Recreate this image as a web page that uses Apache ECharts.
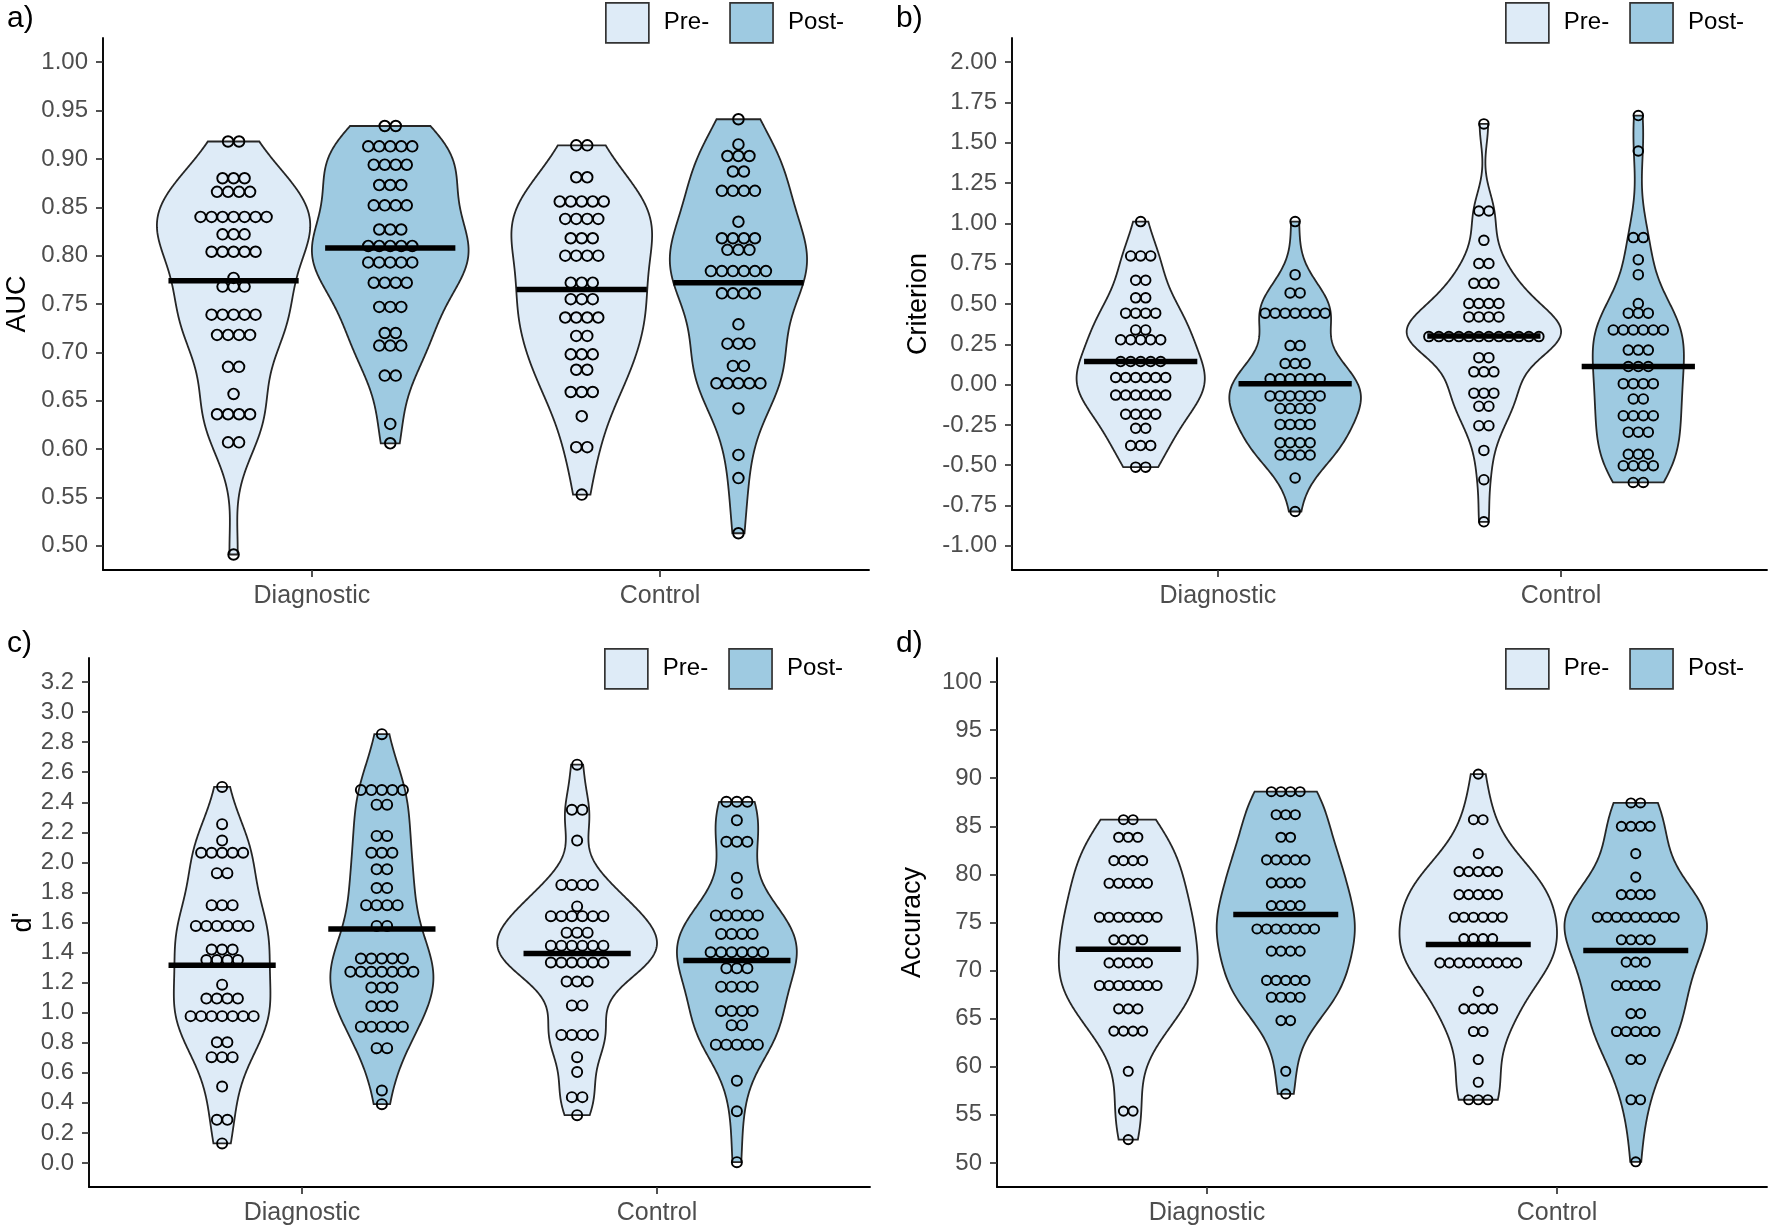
<!DOCTYPE html>
<html><head><meta charset="utf-8">
<script src="https://cdn.jsdelivr.net/npm/echarts@6/dist/echarts.min.js"></script>
<style>html,body{margin:0;padding:0;background:#fff}#c{width:1770px;height:1228px}</style>
</head><body><div id="c"></div>
<script>
// ---------------- DATA (dot rows: [value, count]) ----------------
const groups = ['Diagnostic', 'Control'];
const phases = ['Pre-', 'Post-'];

const aucTicks = [0.50, 0.55, 0.60, 0.65, 0.70, 0.75, 0.80, 0.85, 0.90, 0.95, 1.00];
const critTicks = [-1.00, -0.75, -0.50, -0.25, 0.00, 0.25, 0.50, 0.75, 1.00, 1.25, 1.50, 1.75, 2.00];
const dprimeTicks = [0.0, 0.2, 0.4, 0.6, 0.8, 1.0, 1.2, 1.4, 1.6, 1.8, 2.0, 2.2, 2.4, 2.6, 2.8, 3.0, 3.2];
const accTicks = [50, 55, 60, 65, 70, 75, 80, 85, 90, 95, 100];

// a) AUC
const aucDiagPre = [[0.918,2],[0.880,3],[0.866,4],[0.840,7],[0.822,3],[0.804,5],[0.777,1],[0.768,3],[0.739,5],[0.718,4],[0.685,2],[0.657,1],[0.636,4],[0.607,2],[0.491,1]];
const aucDiagPost = [[0.934,2],[0.913,5],[0.894,4],[0.873,3],[0.852,4],[0.827,3],[0.810,5],[0.793,5],[0.772,4],[0.747,3],[0.720,2],[0.707,3],[0.676,2],[0.626,1],[0.606,1]];
const aucCtrlPre = [[0.914,2],[0.881,2],[0.856,5],[0.838,4],[0.818,3],[0.800,4],[0.772,3],[0.755,3],[0.736,4],[0.717,2],[0.698,3],[0.682,2],[0.659,3],[0.634,1],[0.602,2],[0.553,1]];
const aucCtrlPost = [[0.941,1],[0.915,1],[0.903,3],[0.887,2],[0.867,4],[0.835,1],[0.818,4],[0.806,3],[0.784,6],[0.761,4],[0.729,1],[0.709,3],[0.686,2],[0.668,5],[0.642,1],[0.594,1],[0.570,1],[0.513,1]];
const aucMeans = [0.774, 0.808, 0.765, 0.772];

// b) Criterion
const critDiagPre = [[1.011,1],[0.798,3],[0.647,2],[0.538,2],[0.443,4],[0.339,2],[0.278,5],[0.143,5],[0.044,6],[-0.065,6],[-0.184,4],[-0.271,2],[-0.378,3],[-0.512,2]];
const critDiagPost = [[1.011,1],[0.682,1],[0.569,2],[0.443,7],[0.242,2],[0.131,3],[0.036,6],[-0.070,6],[-0.148,4],[-0.247,4],[-0.361,4],[-0.437,4],[-0.579,1],[-0.787,1]];
const critCtrlPre = [[1.617,1],[1.077,2],[0.895,1],[0.751,2],[0.628,3],[0.503,4],[0.420,4],[0.298,12],[0.167,2],[0.079,3],[-0.053,3],[-0.134,2],[-0.255,2],[-0.408,1],[-0.590,1],[-0.851,1]];
const critCtrlPost = [[1.669,1],[1.449,1],[0.912,2],[0.775,1],[0.682,1],[0.503,1],[0.443,3],[0.339,6],[0.214,3],[0.112,3],[0.006,4],[-0.089,2],[-0.193,4],[-0.295,3],[-0.432,3],[-0.503,4],[-0.607,2]];
const critMeans = [0.143, 0.005, 0.301, 0.112];

// c) d'
const dpDiagPre = [[2.502,1],[2.254,1],[2.145,1],[2.064,5],[1.928,2],[1.715,3],[1.577,6],[1.420,3],[1.350,4],[1.186,1],[1.094,4],[0.977,7],[0.803,2],[0.704,3],[0.508,1],[0.287,2],[0.130,1]];
const dpDiagPost = [[2.853,1],[2.481,5],[2.384,2],[2.176,2],[2.064,3],[1.954,2],[1.829,2],[1.715,4],[1.577,2],[1.360,5],[1.272,7],[1.167,3],[1.042,3],[0.907,5],[0.764,2],[0.482,1],[0.391,1]];
const dpCtrlPre = [[2.650,1],[2.350,2],[2.145,1],[1.850,4],[1.707,1],[1.642,6],[1.532,3],[1.446,6],[1.334,6],[1.207,3],[1.048,2],[0.852,4],[0.704,1],[0.605,1],[0.438,2],[0.318,1]];
const dpCtrlPost = [[2.403,3],[2.280,1],[2.137,3],[1.897,1],[1.793,1],[1.647,5],[1.524,4],[1.402,6],[1.295,3],[1.173,4],[1.011,4],[0.917,2],[0.787,5],[0.547,1],[0.344,1],[0.005,1]];
const dpMeans = [1.316, 1.556, 1.394, 1.347];

// d) Accuracy
const accDiagPre = [[85.69,2],[83.86,3],[81.43,4],[79.08,5],[75.55,7],[73.20,4],[70.80,5],[68.45,7],[66.02,3],[63.71,4],[59.53,1],[55.39,2],[52.43,1]];
const accDiagPost = [[88.60,4],[86.21,3],[83.86,2],[81.51,5],[79.12,4],[76.76,4],[74.33,7],[72.02,4],[68.98,5],[67.23,4],[64.80,2],[59.53,1],[57.18,1]];
const accCtrlPre = [[90.43,1],[85.69,2],[82.16,1],[80.29,5],[77.90,5],[75.55,6],[73.32,4],[70.80,9],[67.84,1],[66.02,4],[63.67,2],[60.75,1],[58.39,1],[56.57,3]];
const accCtrlPost = [[87.43,2],[85.00,4],[82.16,1],[79.72,1],[77.90,4],[75.55,9],[73.20,4],[70.88,3],[68.45,5],[65.53,2],[63.67,5],[60.75,2],[56.57,2],[50.12,1]];
const accMeans = [72.22, 75.83, 72.71, 72.10];

// ---------------- helpers ----------------
const FONT = "'Liberation Sans', Arial, Helvetica, sans-serif";
function expand(rows) { const out = []; rows.forEach(([v, k]) => { for (let i = 0; i < k; i++) out.push(v); }); return out; }
function q7(s, p) { const h = (s.length - 1) * p, lo = Math.floor(h), hi = Math.ceil(h); return s[lo] + (h - lo) * (s[hi] - s[lo]); }
function bwNrd0(x) {
  const n = x.length, m = x.reduce((a, b) => a + b, 0) / n;
  const sd = Math.sqrt(x.reduce((a, b) => a + (b - m) * (b - m), 0) / (n - 1));
  const s = [...x].sort((a, b) => a - b);
  const iqr = q7(s, 0.75) - q7(s, 0.25);
  let lo = Math.min(sd, iqr / 1.34);
  if (!(lo > 0)) lo = sd || 1;
  return 0.9 * lo * Math.pow(n, -0.2);
}
function kde(x, nPts) {
  const h = bwNrd0(x), s = [...x].sort((a, b) => a - b);
  const lo = s[0], hi = s[s.length - 1], ys = [], ds = [];
  for (let i = 0; i < nPts; i++) {
    const y = lo + (hi - lo) * i / (nPts - 1);
    let d = 0;
    for (const v of x) { const u = (y - v) / h; d += Math.exp(-0.5 * u * u); }
    ys.push(y); ds.push(d / (x.length * h * Math.sqrt(2 * Math.PI)));
  }
  return { ys, ds };
}

const centers = [1 - 0.225, 1 + 0.225, 2 - 0.225, 2 + 0.225];
const fills = ['#deebf7', '#9ecae1', '#deebf7', '#9ecae1'];

const panelDefs = [
  { label: 'a)', yName: 'AUC', yMin: 0.475, yMax: 1.025, ticks: aucTicks, dec: 2,
    sets: [aucDiagPre, aucDiagPost, aucCtrlPre, aucCtrlPost], means: aucMeans,
    grid: { left: 103, top: 38, width: 766, height: 532 }, dotD: 11, meanHalf: 0.187, nameGap: 72,
    legend: { left: 605, top: 2 }, title: { left: 7, top: 4 } },
  { label: 'b)', yName: 'Criterion', yMin: -1.15, yMax: 2.15, ticks: critTicks, dec: 2,
    sets: [critDiagPre, critDiagPost, critCtrlPre, critCtrlPost], means: critMeans,
    grid: { left: 1012, top: 38, width: 755, height: 532 }, dotD: 10, meanHalf: 0.165, nameGap: 80,
    legend: { left: 1505, top: 2 }, title: { left: 896, top: 4 } },
  { label: 'c)', yName: "d'", yMin: -0.16, yMax: 3.36, ticks: dprimeTicks, dec: 1,
    sets: [dpDiagPre, dpDiagPost, dpCtrlPre, dpCtrlPost], means: dpMeans,
    grid: { left: 89, top: 658, width: 781, height: 529 }, dotD: 10.5, meanHalf: 0.151, nameGap: 52,
    legend: { left: 604, top: 648 }, title: { left: 7, top: 629 } },
  { label: 'd)', yName: 'Accuracy', yMin: 47.5, yMax: 102.5, ticks: accTicks, dec: 0,
    sets: [accDiagPre, accDiagPost, accCtrlPre, accCtrlPost], means: accMeans,
    grid: { left: 997, top: 658, width: 770, height: 529 }, dotD: 9.6, meanHalf: 0.15, nameGap: 71,
    legend: { left: 1505, top: 648 }, title: { left: 896, top: 629 } }
];

const grids = [], xAxes = [], yAxes = [], series = [], legends = [], titles = [];

panelDefs.forEach((p, pi) => {
  grids.push(Object.assign({ containLabel: false }, p.grid));
  xAxes.push({
    type: 'value', gridIndex: pi, min: 0.4, max: 2.6,
    axisLine: { show: true, onZero: false, lineStyle: { color: '#000', width: 1.9 } },
    axisTick: { show: true, customValues: [1, 2], length: 7, lineStyle: { color: '#333', width: 1.7 } },
    axisLabel: { customValues: [1, 2], formatter: v => groups[Math.round(v) - 1], color: '#4d4d4d', fontSize: 25, margin: 14, fontFamily: FONT },
    splitLine: { show: false }
  });
  yAxes.push({
    type: 'value', gridIndex: pi, min: p.yMin, max: p.yMax,
    axisLine: { show: true, onZero: false, lineStyle: { color: '#000', width: 1.9 } },
    axisTick: { show: true, customValues: p.ticks, length: 7, lineStyle: { color: '#333', width: 1.7 } },
    axisLabel: { customValues: p.ticks, formatter: v => Number(v).toFixed(p.dec), color: '#4d4d4d', fontSize: 24, margin: 15, fontFamily: FONT },
    splitLine: { show: false },
    name: p.yName, nameLocation: 'middle', nameGap: p.nameGap,
    nameTextStyle: { fontSize: 27, color: '#000', fontFamily: FONT }
  });
  legends.push({
    left: p.legend.left, top: p.legend.top, orient: 'horizontal', icon: 'rect', padding: 0,
    itemWidth: 43, itemHeight: 40, itemGap: 20, selectedMode: false,
    textStyle: { fontSize: 24, color: '#000', fontFamily: FONT, padding: [0, 0, 0, 10] },
    data: [
      { name: 'Pre-', itemStyle: { color: '#deebf7', borderColor: '#333', borderWidth: 1.7 } },
      { name: 'Post-', itemStyle: { color: '#9ecae1', borderColor: '#333', borderWidth: 1.7 } }
    ]
  });
  titles.push({ text: p.label, left: p.title.left, top: p.title.top, padding: 0,
    textStyle: { fontSize: 30, fontWeight: 'normal', color: '#000', fontFamily: FONT } });

  // violins (density estimated from the dot values, area-scaled within the panel)
  const raws = p.sets.map(expand);
  const dens = raws.map(r => kde(r, 300));
  const maxD = Math.max(...dens.map(d => Math.max(...d.ds)));
  const shapes = dens.map((d, vi) => ({ xc: centers[vi], ys: d.ys, hw: d.ds.map(v => 0.225 * v / maxD) }));
  [0, 1].forEach(ph => {
    series.push({
      type: 'custom', name: phases[ph], xAxisIndex: pi, yAxisIndex: pi, z: 2, silent: true,
      itemStyle: { color: fills[ph] },
      data: [ph, ph + 2].map(vi => [centers[vi], shapes[vi].ys[0], vi]),
      renderItem: (params, api) => {
        const s = shapes[api.value(2)];
        const right = [], left = [];
        for (let i = 0; i < s.ys.length; i++) {
          right.push(api.coord([s.xc + s.hw[i], s.ys[i]]));
          left.push(api.coord([s.xc - s.hw[i], s.ys[i]]));
        }
        return { type: 'polygon', shape: { points: right.concat(left.reverse()) },
          style: { fill: fills[ph], stroke: '#262626', lineWidth: 1.8 } };
      }
    });
  });

  // dots (centre-stacked dot plot rows)
  const dotData = [];
  p.sets.forEach((rows, vi) => rows.forEach(([v, k]) => {
    for (let j = 0; j < k; j++) dotData.push([centers[vi], v, j - (k - 1) / 2]);
  }));
  series.push({
    type: 'custom', name: 'dots', xAxisIndex: pi, yAxisIndex: pi, z: 3, silent: true, data: dotData,
    renderItem: (params, api) => {
      const c = api.coord([api.value(0), api.value(1)]);
      return { type: 'circle', shape: { cx: c[0] + api.value(2) * p.dotD, cy: c[1], r: p.dotD / 2 - 0.2 },
        style: { fill: 'none', stroke: '#000', lineWidth: 1.9 } };
    }
  });

  // mean bars
  series.push({
    type: 'custom', name: 'mean', xAxisIndex: pi, yAxisIndex: pi, z: 4, silent: true,
    data: p.means.map((m, vi) => [centers[vi], m]),
    renderItem: (params, api) => {
      const a = api.coord([api.value(0) - p.meanHalf, api.value(1)]);
      const b = api.coord([api.value(0) + p.meanHalf, api.value(1)]);
      return { type: 'line', shape: { x1: a[0], y1: a[1], x2: b[0], y2: b[1] },
        style: { stroke: '#000', lineWidth: 5.5 } };
    }
  });
});

const chart = echarts.init(document.getElementById('c'), null, { renderer: 'canvas' });
chart.setOption({
  backgroundColor: '#ffffff',
  animation: false,
  title: titles,
  legend: legends,
  grid: grids,
  xAxis: xAxes,
  yAxis: yAxes,
  series: series
});
</script>
</body></html>
